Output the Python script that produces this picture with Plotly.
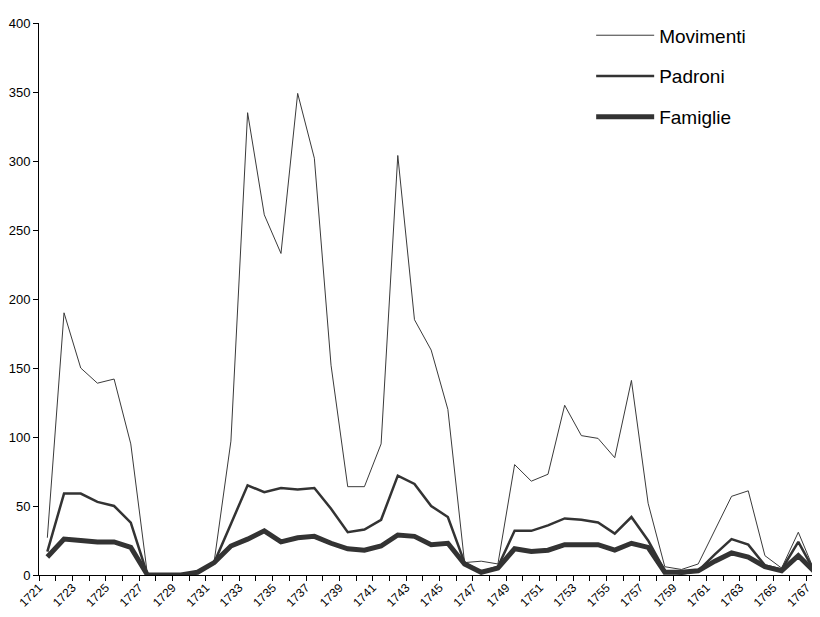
import plotly.graph_objects as go

years = list(range(1721, 1768))
movimenti = [27, 190, 150, 139, 142, 95, 0, 0, 0, 2,
             10, 97, 335, 261, 233, 349, 302, 152, 64, 64,
             95, 304, 185, 163, 120, 9, 10, 8, 80, 68,
             73, 123, 101, 99, 85, 141, 52, 6, 4, 8,
             33, 57, 61, 14, 5, 31, 2]
padroni = [17, 59, 59, 53, 50, 38, 0, 0, 0, 2,
           9, 37, 65, 60, 63, 62, 63, 48, 31, 33,
           40, 72, 66, 50, 42, 9, 2, 6, 32, 32,
           36, 41, 40, 38, 30, 42, 25, 3, 1, 3,
           15, 26, 22, 7, 4, 24, 2]
famiglie = [13, 26, 25, 24, 24, 20, 0, 0, 0, 2,
            9, 21, 26, 32, 24, 27, 28, 23, 19, 18,
            21, 29, 28, 22, 23, 8, 2, 5, 19, 17,
            18, 22, 22, 22, 18, 23, 20, 2, 2, 3,
            10, 16, 13, 6, 3, 14, 2]
label_years = years[::2]
y_ticks = list(range(0, 401, 50))

FONT = "Liberation Sans, Arial, sans-serif"
fig = go.Figure()
fig.add_trace(go.Scatter(x=years, y=movimenti, name="Movimenti", mode="lines",
                         line=dict(color="#3a3a3a", width=1), legendgroup="a"))
fig.add_trace(go.Scatter(x=years, y=padroni, name="Padroni", mode="lines",
                         line=dict(color="#333333", width=2.5), legendgroup="b"))
fig.add_trace(go.Scatter(x=years, y=famiglie, name="Famiglie", mode="lines",
                         line=dict(color="#333333", width=5), legendgroup="c"))

fig.update_layout(
    width=820, height=617,
    margin=dict(l=31, r=8, t=9, b=50),
    paper_bgcolor="white", plot_bgcolor="white",
    font=dict(family=FONT, color="#000000", size=12),
    showlegend=True,
    legend=dict(x=0.707, y=1.012, xanchor="left", yanchor="top",
                font=dict(size=19, family=FONT), tracegroupgap=13,
                itemwidth=58, bgcolor="rgba(0,0,0,0)"),
)
fig.update_xaxes(
    range=[1720.5, 1767.3], showgrid=False, zeroline=False, automargin=False,
    showline=True, linecolor="#000000", linewidth=1,
    tickmode="array", tickvals=[y - 0.5 for y in label_years],
    ticktext=[str(y) for y in label_years],
    ticks="", tickangle=-45, tickfont=dict(size=12, family=FONT),
    minor=dict(tickmode="array", tickvals=[y - 0.5 for y in years] + [years[-1] + 0.5],
               ticks="outside", ticklen=5, tickcolor="#000000", tickwidth=1, showgrid=False),
)
fig.update_yaxes(
    range=[0, 400], showgrid=False, zeroline=False, automargin=False,
    showline=True, linecolor="#000000", linewidth=1,
    tickmode="array", tickvals=y_ticks, ticks="outside", ticklen=5,
    tickcolor="#000000", tickfont=dict(size=13, family=FONT),
)
fig.write_html("out.html")
